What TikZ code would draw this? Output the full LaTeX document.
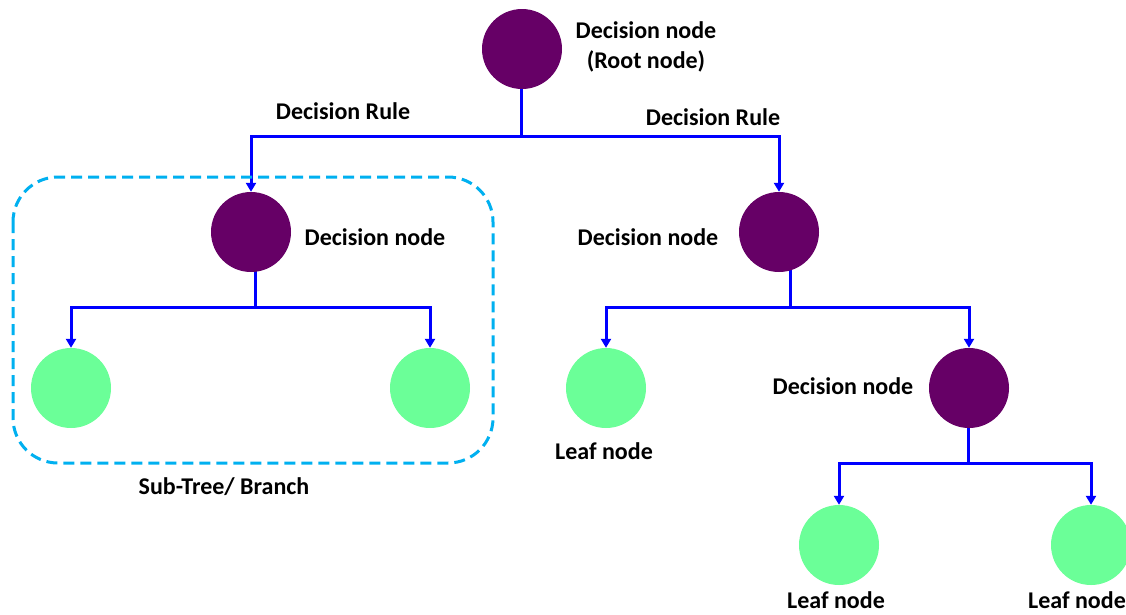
\documentclass[tikz,border=0pt]{standalone}
\usepackage{fontspec}
\setmainfont{Carlito}
\usetikzlibrary{arrows.meta,backgrounds}
\definecolor{decc}{HTML}{660066}
\definecolor{leafc}{HTML}{6BFF98}
\definecolor{wirec}{HTML}{0000FF}
\definecolor{boxc}{HTML}{00B0F0}
\begin{document}
\begin{tikzpicture}[x=1pt,y=-1pt,
  decnode/.style={circle, fill=decc, minimum size=80pt, inner sep=0pt},
  leafnode/.style={circle, fill=leafc, minimum size=80pt, inner sep=0pt},
  lbl/.style={font=\fontsize{24}{30}\selectfont\bfseries, inner sep=0pt, text=black, align=center},
  wire/.style={draw=wirec, line width=3pt},
  arr/.style={wire, -{Triangle[length=9pt,width=10pt]}},
  subtree/.style={draw=boxc, line width=3pt, dash pattern=on 11pt off 6pt, rounded corners=45pt}]
\useasboundingbox (0,0) rectangle (1126,614);
\clip (0,0) rectangle (1126,614);
% nodes
\node[decnode] (root) at (522,49) {};
\node[decnode] (dl) at (251,232) {};
\node[decnode] (dr) at (779,232) {};
\node[leafnode] (ll) at (71,388) {};
\node[leafnode] (lr) at (430,388) {};
\node[leafnode] (rl) at (606,388) {};
\node[decnode] (rd) at (969,388) {};
\node[leafnode] (rdl) at (839,545) {};
\node[leafnode] (rdr) at (1091,545) {};
% junctions
\coordinate (j0) at (521,136);
\coordinate (j1) at (255,307);
\coordinate (j2) at (790,307);
\coordinate (j3) at (968,463);
\begin{pgfonlayer}{background}
\draw[wire] (j0 |- root.center) -- (j0);
\draw[arr] (j0) -| (dl.north);
\draw[arr] (j0) -| (dr.north);
\draw[wire] (j1 |- dl.center) -- (j1);
\draw[arr] (j1) -| (ll.north);
\draw[arr] (j1) -| (lr.north);
\draw[wire] (j2 |- dr.center) -- (j2);
\draw[arr] (j2) -| (rl.north);
\draw[arr] (j2) -| (rd.north);
\draw[wire] (j3 |- rd.center) -- (j3);
\draw[arr] (j3) -| (rdl.north);
\draw[arr] (j3) -| (rdr.north);
\end{pgfonlayer}
% sub-tree box
\draw[subtree] (13,177) rectangle (493,463);
% labels
\node[lbl] (lroot) at (646,47) {Decision node\\(Root node)};
\node[lbl] (lrule1) at (343,111) {Decision Rule};
\node[lbl] (lrule2) at (713,117) {Decision Rule};
\node[lbl] (ldl) at (375,237) {Decision node};
\node[lbl] (ldr) at (648,237) {Decision node};
\node[lbl] (lrd) at (843,386) {Decision node};
\node[lbl] (lrl) at (604,451) {Leaf node};
\node[lbl] (lrdl) at (836,600) {Leaf node};
\node[lbl] (lrdr) at (1077,600) {Leaf node};
\node[lbl] (lsub) at (224,487) {Sub-Tree/ Branch};
\end{tikzpicture}
\end{document}
